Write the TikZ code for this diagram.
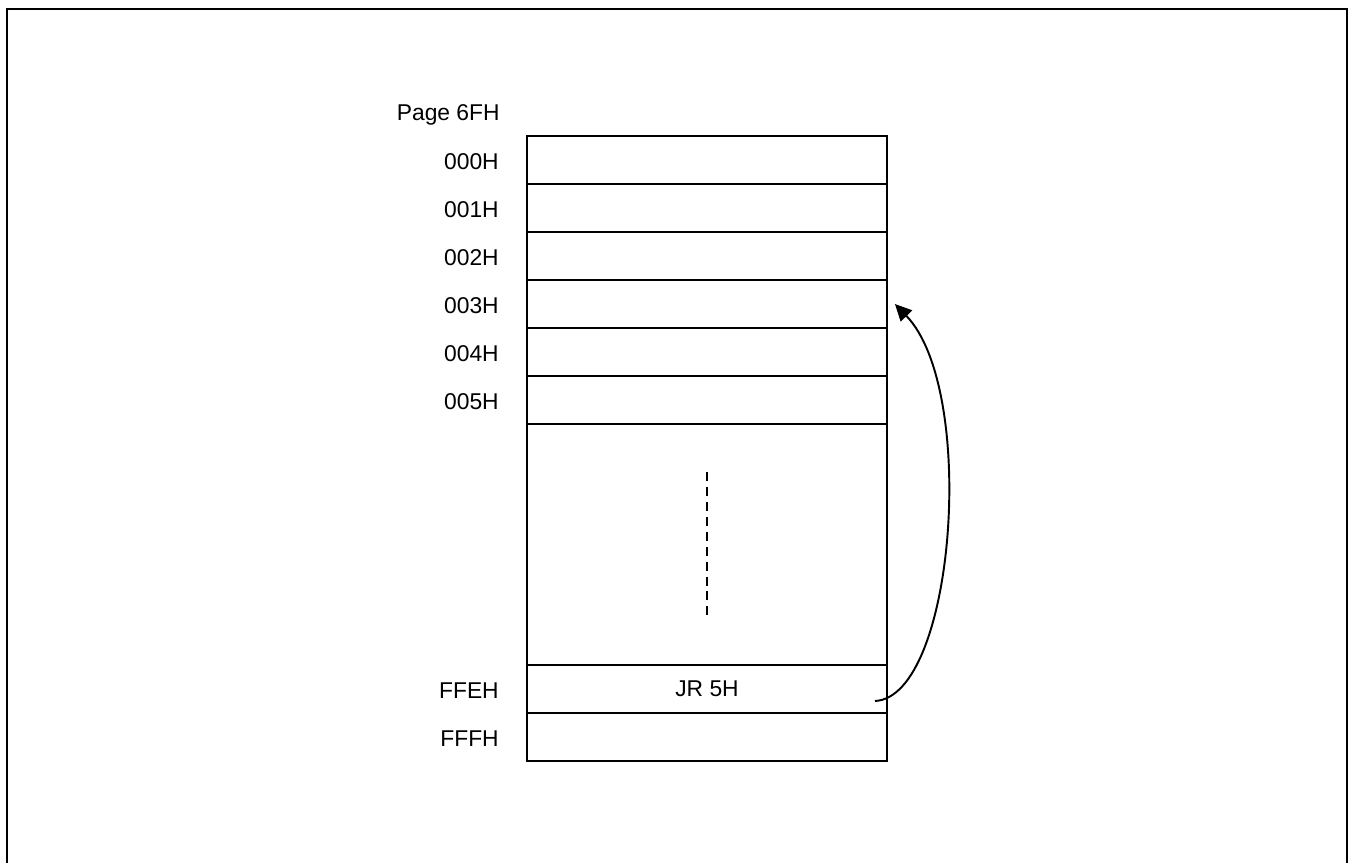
\documentclass[tikz,border=0pt]{standalone}
\usepackage{fontspec}
\setmainfont{Liberation Sans}
\usetikzlibrary{arrows.meta,positioning}

\begin{document}
\begin{tikzpicture}[x=0.02cm,y=-0.02cm,>={Triangle[length=9.5pt,width=9pt]},
    font=\fontsize{13}{15}\selectfont]

  \tikzstyle{cell}=[rectangle,draw=black,line width=1.1pt,
    minimum width=7.2cm,minimum height=0.96cm,inner sep=0pt]

  \tikzstyle{addr}=[inner sep=0pt,anchor=east]

  \tikzstyle{frame}=[line width=1.1pt]

  %% \draw [help lines] (0,0) grid (1348,863);

  \useasboundingbox (0,0) rectangle (1348,863);
  \draw [frame] (7,863) -- (7,9) -- (1347,9) -- (1347,863);

  \node  (page) at (500,115) [addr] {Page 6FH};

  \foreach \i in {0,...,5}
    \node (c\i) at (707,160+48*\i) [cell] {};

  \foreach \i in {0,...,5}
    \node (l\i) [addr,left=0.54cm of c\i,yshift=-0.03cm] {00\i H};

  \node  (gap) at (707,544.5) [cell,minimum height=4.82cm] {};
  \node  (cfe) at (707,689)   [cell] {JR 5H};
  \node  (cff) at (707,737)   [cell] {};

  \node  (lfe) [addr,left=0.54cm of cfe,yshift=-0.03cm] {FFEH};
  \node  (lff) [addr,left=0.54cm of cff,yshift=-0.03cm] {FFFH};

  \tikzstyle{dots}=[line width=1.1pt,dash pattern=on 5.1pt off 3.4pt]
  \tikzstyle{jump}=[->,line width=1.1pt]

  \draw [dots] (707,472) -- (707,617);

  \coordinate (src) at (875,701);
  \draw [jump] (src) .. controls (955,697) and (978,390) .. ([xshift=0.14cm]c3.east);

\end{tikzpicture}
\end{document}
